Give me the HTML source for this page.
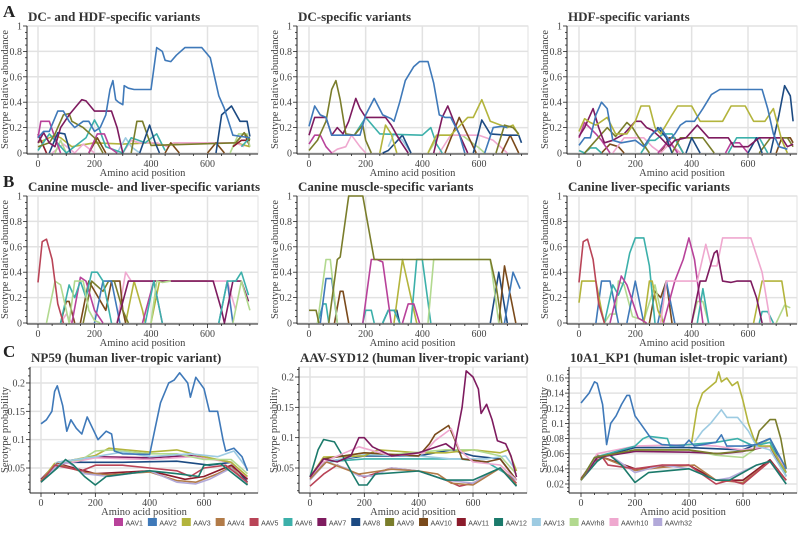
<!DOCTYPE html>
<html><head><meta charset="utf-8">
<style>
html,body{margin:0;padding:0;background:#fff;}
svg{display:block;}
.tick{font-family:"Liberation Serif",serif;font-size:10px;fill:#444;}
.ptitle{font-family:"Liberation Serif",serif;font-size:13px;font-weight:bold;fill:#333;}
.atitle{font-family:"Liberation Serif",serif;font-size:10.5px;fill:#444;}
.letter{font-family:"Liberation Serif",serif;font-size:17px;font-weight:bold;fill:#222;}
.leg{font-family:"Liberation Sans",sans-serif;font-size:7px;fill:#444;}
</style></head>
<body>
<svg id="chart" width="800" height="537" viewBox="0 0 800 537"></svg>
<script>
const serotypes = ["AAV1","AAV2","AAV3","AAV4","AAV5","AAV6","AAV7","AAV8","AAV9","AAV10","AAV11","AAV12","AAV13","AAVrh8","AAVrh10","AAVrh32"];
const colors = ["#b8429a","#3f79b9","#b3b43c","#b27b48","#b94457","#3cb0aa","#7e1b5f","#1c4a82","#7a7d2b","#7a4a1b","#8b1b2b","#1b7a6b","#9dcbe2","#b2d98f","#efa8cf","#b2a9d9"];

const xTicks = [0,200,400,600];
const yTicksAB = [0,0.2,0.4,0.6,0.8,1];
const yLabelsAB = ["0","0.2","0.4","0.6","0.8","1"];
const yTicksC12 = [0.05,0.1,0.15,0.2];
const yLabelsC12 = ["0.05","0.1","0.15","0.2"];
const yTicksC3 = [0.02,0.04,0.06,0.08,0.1,0.12,0.14,0.16];
const yLabelsC3 = ["0.02","0.04","0.06","0.08","0.1","0.12","0.14","0.16"];
const titles = ["DC- and HDF-specific variants","DC-specific variants","HDF-specific variants","Canine muscle- and liver-specific variants","Canine muscle-specific variants","Canine liver-specific variants","NP59 (human liver-tropic variant)","AAV-SYD12 (human liver-tropic variant)","10A1_KP1 (human islet-tropic variant)"];

const A1 = {
AAV3:[[0,0.08],[60,0.14],[80,0.12],[120,0.05],[200,0.08],[300,0.07],[400,0.08],[450,0.06],[500,0.08],[700,0.08],[750,0.05]],
AAVrh10:[[50,0],[90,0.07],[130,0],[160,0.07],[200,0],null,[300,0],[330,0.1],[360,0.08],[420,0.08],[460,0.05],[480,0.08],[700,0.08],[730,0.05]],
AAV10:[[180,0],[210,0.12],[240,0],null,[450,0],[470,0.08],[500,0],null,[600,0],[630,0.08],[660,0],null,[700,0.08],[730,0.16],[750,0.05]],
AAVrh8:[[60,0],[80,0.1],[100,0],null,[680,0],[710,0.15],[740,0.15],[750,0.05]],
AAV13:[[280,0],[310,0.12],[330,0.05],[360,0]],
AAV11:[[0,0.15],[30,0],null,[690,0.05],[720,0.1],[750,0.1]],
AAV6:[[0,0.02],[40,0.15],[60,0.1],[100,0],[170,0.12],[200,0.26],[215,0.2],[240,0.05],[300,0],[330,0.12],[380,0.08],[420,0.15],[450,0.02],null,[720,0.05],[750,0.12]],
AAV1:[[0,0.12],[10,0.25],[40,0.25],[60,0.12],[80,0],null,[180,0],[210,0.15],[235,0.15],[255,0.04],[280,0]],
AAV9:[[0,0.05],[40,0.08],[60,0.15],[90,0.3],[110,0.31],[120,0.25],[160,0.2],[200,0.12],[230,0],null,[330,0],[350,0.25],[370,0.25],[400,0.06],[700,0.08],[730,0.16],[750,0.1]],
AAV8:[[40,0],[70,0.16],[95,0.15],[115,0],null,[360,0],[395,0.22],[415,0.08],[430,0],null,[630,0],[650,0.3],[685,0.37],[715,0.25],[740,0.25],[750,0.13]],
AAV7:[[0,0.08],[20,0.16],[40,0.08],[60,0.05],[80,0.2],[110,0.3],[140,0.38],[155,0.42],[170,0.41],[200,0.33],[260,0.33],[280,0.2],[300,0]],
AAV2:[[0,0.12],[20,0.17],[40,0.17],[70,0.33],[90,0.33],[110,0.25],[130,0.2],[160,0.25],[180,0.25],[200,0.17],[220,0.2],[240,0.3],[255,0.5],[265,0.57],[275,0.42],[285,0.4],[300,0.38],[305,0.53],[320,0.51],[340,0.5],[400,0.5],[420,0.83],[440,0.8],[450,0.73],[470,0.72],[490,0.77],[520,0.83],[580,0.83],[610,0.75],[640,0.45],[660,0.35],[690,0.14],[720,0.13],[750,0.12]]
};
const A2 = {
AAV13:[[280,0.05],[300,0.15],[330,0.1],[360,0]],
AAVrh8:[[420,0],[460,0.14],[540,0.14],[600,0.04],[620,0]],
AAVrh10:[[80,0],[100,0.03],[130,0.05],[150,0.14],[180,0.05],[200,0],null,[460,0],[500,0.14],[600,0.14],[650,0.1],[700,0]],
AAV1:[[0,0.07],[20,0.14],[40,0.14],[60,0.05],[80,0]],
AAV10:[[480,0],[530,0.28],[560,0.14],[590,0],null,[680,0],[710,0.14],[740,0]],
AAV8:[[260,0],[280,0.02],[330,0.14],[360,0],null,[580,0],[610,0.26],[640,0.15],[700,0.14],[740,0.14],[750,0.08]],
AAV6:[[160,0.14],[200,0.28],[250,0.15],[400,0.14],[430,0.2],[450,0.07],[470,0]],
AAV3:[[250,0],[270,0.22],[290,0.15],[310,0],null,[420,0],[450,0.14],[500,0.14],[560,0.28],[580,0.28],[610,0.42],[640,0.25],[700,0.2],[720,0.22],[740,0.14]],
AAV7:[[0,0.14],[20,0.28],[60,0.28],[80,0.14],[100,0.2],[120,0.15],[140,0.25],[165,0.43],[180,0.35],[200,0.28],[270,0.28],[290,0.22],[320,0.1],[350,0],null,[440,0],[470,0.28],[490,0.37],[520,0.2],[560,0]],
AAV9:[[0,0.02],[30,0.1],[60,0.25],[80,0.5],[95,0.57],[110,0.42],[130,0.15],[160,0.14],[190,0.22],[200,0.1],[220,0],null,[660,0],[690,0.22],[720,0.2],[740,0.15]],
AAV2:[[0,0.21],[20,0.37],[40,0.3],[60,0.28],[80,0.14],[140,0.14],[180,0.14],[200,0.3],[230,0.43],[260,0.3],[290,0.27],[300,0.25],[320,0.4],[340,0.57],[370,0.68],[390,0.72],[420,0.72],[440,0.55],[460,0.3],[480,0.28],[500,0.28],[530,0.15],[550,0],null,[620,0],[650,0.2],[680,0.21],[700,0.2]]
};
const A3 = {
AAV10:[[80,0],[110,0.07],[140,0.05],[160,0],null,[290,0],[320,0.12],[340,0.12],[370,0],null,[700,0],[720,0.12],[750,0.12],[760,0.08]],
AAVrh10:[[120,0],[160,0.12],[230,0.12],[260,0.05],[290,0],[320,0.07],[340,0.04],[360,0]],
AAV1:[[0,0.12],[20,0.24],[60,0.15],[80,0.1],[110,0],null,[280,0],[320,0.1],[350,0],null,[520,0],[540,0.08],[570,0.08],[600,0]],
AAV6:[[0,0.02],[20,0],[40,0.04],[60,0.04],[80,0],null,[220,0],[250,0.1],[270,0.1],[300,0.15],[330,0.15],[370,0],null,[530,0],[560,0.12],[640,0.12],[670,0]],
AAV9:[[20,0],[60,0.1],[100,0.2],[130,0.13],[170,0.24],[190,0.2],[210,0.13],[250,0],null,[330,0],[360,0.12],[440,0.12],[480,0],null,[640,0],[680,0.12],[740,0.12],[760,0.05]],
AAV8:[[250,0.12],[280,0.2],[310,0.12],[330,0],null,[380,0],[400,0.12],[430,0],null,[600,0],[630,0.12],[650,0],null,[680,0],[710,0.3],[730,0.53],[750,0.45],[760,0.25]],
AAV7:[[0,0.13],[20,0.2],[50,0.35],[70,0.2],[90,0.08],[120,0.1],[160,0.15],[200,0.25],[220,0.25],[240,0.2],[260,0.18],[290,0.12],[320,0.05],[340,0.1],[380,0.12],[420,0.22],[460,0.12],[530,0.12],[550,0.05],[600,0.05],[640,0.12],[720,0.12],[740,0.05],[760,0.07]],
AAV3:[[0,0.17],[20,0.27],[40,0.24],[60,0.22],[80,0.25],[100,0.28],[130,0.15],[170,0.15],[200,0.25],[220,0.37],[250,0.37],[270,0.2],[290,0.15],[330,0.3],[350,0.37],[400,0.37],[430,0.25],[510,0.25],[540,0.37],[590,0.37],[620,0.25],[660,0.25],[690,0.35],[720,0.1],[740,0]],
AAV2:[[0,0.06],[20,0.12],[40,0.12],[60,0.3],[80,0.4],[100,0.35],[120,0.1],[150,0.08],[200,0.1],[230,0.05],[260,0.15],[290,0.2],[320,0.1],[340,0.15],[360,0.22],[380,0.25],[410,0.25],[440,0.35],[470,0.46],[500,0.5],[650,0.5],[670,0.35],[690,0.15],[710,0.05],[740,0.03]]
};
const B1 = {
AAV3:[[310,0],[340,0.33],[370,0.1],[380,0],null,[400,0],[430,0.33],[600,0.33]],
AAVrh10:[[80,0],[100,0.07],[120,0],null,[280,0],[310,0.4],[330,0.33],[670,0.33],[700,0.1]],
AAV10:[[80,0],[100,0.17],[110,0.17],[130,0],null,[150,0],[180,0.33],[240,0.1],[260,0.33],[290,0.33],[300,0.1],[310,0]],
AAV9:[[160,0],[190,0.33],[230,0.25],[250,0.33],[270,0.33],[300,0.1],[320,0]],
AAV2:[[200,0],[230,0.33],[260,0.33],[290,0],null,[640,0],[670,0.33],[690,0]],
AAV1:[[120,0],[150,0.36],[170,0.33],[200,0.1],[230,0],null,[370,0],[410,0.33],[440,0]],
AAV7:[[280,0],[320,0.33],[620,0.33],[650,0.1],[660,0],[690,0.33],[720,0.33],[745,0.17]],
AAV6:[[80,0],[110,0.3],[130,0.2],[150,0.33],[170,0.2],[190,0.4],[210,0.4],[230,0.33],[260,0],null,[380,0],[410,0.33],[440,0],null,[640,0],[670,0.33],[700,0.33],[720,0.4],[745,0.22]],
AAVrh8:[[30,0],[60,0.33],[80,0.3],[100,0.1],[110,0],[130,0.33],[160,0.33],[180,0.1],[200,0.02],[220,0],null,[400,0],[420,0.33],[440,0.32],[470,0.33],null,[690,0],[720,0.33],[750,0.1]],
AAV5:[[0,0.32],[15,0.64],[30,0.66],[50,0.5],[70,0.15],[90,0]]
};
const B2 = {
AAV8:[[260,0],[280,0.1],[310,0.1],[320,0],null,[640,0],[670,0.4],[700,0]],
AAV3:[[300,0],[330,0.5],[370,0.1],[380,0]],
AAV6:[[30,0],[50,0.15],[60,0.15],[70,0],null,[190,0],[200,0.1],[220,0.1],[230,0],null,[260,0],[280,0.1],[300,0.1],[320,0],null,[360,0],[380,0.5],[400,0.5],[430,0]],
AAV1:[[190,0],[220,0.5],[240,0.5],[260,0.48],[290,0],null,[330,0],[350,0.15],[370,0.15],[390,0]],
AAV10:[[90,0],[110,0.25],[120,0.25],[140,0],null,[670,0],[690,0.45],[730,0]],
AAV2:[[40,0],[60,0.35],[80,0.35],[100,0],null,[690,0],[720,0.4],[745,0.27]],
AAVrh8:[[30,0],[60,0.5],[75,0.5],[100,0],null,[420,0],[440,0.5],[640,0.5],[670,0]],
AAV9:[[0,0.1],[25,0.1],[35,0],null,[70,0],[100,0.5],[110,0.52],[140,1],[190,1],[230,0.5],[640,0.5],[660,0.3],[680,0]]
};
const B3 = {
AAV10:[[250,0],[270,0.25],[290,0.2],[310,0.33],[330,0]],
AAVrh8:[[90,0],[110,0.07],[130,0.07],[140,0.33],[160,0.3],[190,0.05],[230,0.02],[270,0.3],[300,0],null,[400,0],[420,0.17],[440,0.17],[460,0],null,[700,0],[730,0.14],[750,0.12]],
AAV2:[[60,0],[80,0.33],[110,0.33],[140,0],null,[170,0],[200,0.33],[230,0],null,[280,0],[310,0.33],[340,0]],
AAV6:[[90,0],[120,0.3],[140,0.22],[160,0.33],[180,0.55],[200,0.67],[230,0.67],[250,0.45],[270,0],null,[420,0],[440,0.27],[460,0],null,[640,0],[650,0.09],[670,0.09],[690,0]],
AAV3:[[0,0.16],[10,0.33],[60,0.33],[80,0.1],[90,0],null,[230,0],[250,0.33],[260,0.33],[280,0.1],[300,0],null,[620,0],[650,0.33],[720,0.33],[740,0.05]],
AAV1:[[110,0],[150,0.37],[170,0.3],[210,0.04],[240,0],null,[300,0],[340,0.33],[370,0.5],[390,0.67],[410,0.5],[440,0]],
AAVrh10:[[290,0],[310,0.33],[420,0.33],[450,0.62],[470,0.45],[490,0.45],[510,0.67],[610,0.67],[650,0.4],[680,0]],
AAV7:[[400,0],[430,0.33],[450,0.33],[480,0.55],[490,0.57],[510,0.33],[540,0.32],[560,0.33],[610,0.33],[630,0.2],[650,0]],
AAV5:[[0,0.32],[15,0.64],[30,0.66],[50,0.5],[70,0.15],[90,0]]
};
const C1 = {
AAV8:[[0,0.03],[80,0.06],[300,0.06],[500,0.062],[620,0.055],[700,0.06],[760,0.025]],
AAV7:[[0,0.03],[60,0.06],[200,0.07],[400,0.068],[550,0.072],[700,0.06],[760,0.03]],
AAVrh10:[[0,0.025],[60,0.055],[200,0.068],[400,0.065],[560,0.07],[700,0.06],[760,0.032]],
AAV3:[[0,0.027],[50,0.058],[200,0.072],[250,0.085],[400,0.078],[500,0.082],[600,0.07],[700,0.06],[760,0.035]],
AAVrh8:[[0,0.025],[60,0.06],[150,0.065],[200,0.08],[260,0.082],[400,0.075],[500,0.075],[600,0.065],[700,0.065],[760,0.04]],
AAV13:[[0,0.025],[60,0.06],[200,0.07],[300,0.078],[400,0.07],[550,0.075],[650,0.07],[710,0.08],[760,0.048]],
AAV11:[[0,0.027],[60,0.058],[200,0.04],[400,0.045],[530,0.03],[600,0.035],[700,0.055],[760,0.03]],
AAV4:[[0,0.028],[60,0.057],[160,0.042],[250,0.038],[400,0.043],[500,0.028],[570,0.025],[650,0.04],[700,0.052],[760,0.022]],
AAVrh32:[[0,0.025],[60,0.055],[100,0.06],[160,0.04],[250,0.035],[400,0.045],[500,0.025],[570,0.022],[620,0.03],[700,0.05],[760,0.02]],
AAV5:[[0,0.025],[50,0.055],[150,0.045],[200,0.055],[300,0.055],[400,0.05],[500,0.045],[550,0.035],[600,0.05],[680,0.055],[760,0.025]],
AAV12:[[0,0.025],[60,0.05],[90,0.065],[120,0.055],[160,0.035],[200,0.02],[240,0.035],[400,0.045],[500,0.04],[580,0.035],[600,0.055],[660,0.058],[760,0.02]],
AAV2:[[0,0.128],[20,0.135],[40,0.15],[50,0.185],[60,0.195],[80,0.16],[95,0.115],[110,0.135],[130,0.12],[150,0.11],[170,0.14],[190,0.12],[210,0.1],[240,0.115],[260,0.11],[270,0.08],[300,0.075],[400,0.074],[420,0.12],[440,0.165],[470,0.2],[490,0.205],[510,0.218],[540,0.2],[550,0.175],[570,0.21],[600,0.19],[620,0.15],[650,0.15],[670,0.1],[680,0.08],[710,0.085],[740,0.07],[760,0.045]]
};
const C2 = {
AAV6:[[0,0.035],[60,0.06],[200,0.065],[400,0.065],[550,0.065],[650,0.06],[760,0.03]],
AAV8:[[0,0.035],[50,0.06],[200,0.07],[400,0.07],[520,0.08],[600,0.07],[700,0.065],[760,0.03]],
AAV13:[[0,0.03],[60,0.06],[200,0.072],[400,0.07],[520,0.065],[650,0.065],[720,0.07],[760,0.045]],
AAV3:[[0,0.035],[50,0.068],[200,0.07],[250,0.08],[400,0.075],[500,0.075],[600,0.08],[700,0.075],[730,0.08],[760,0.045]],
AAVrh8:[[0,0.035],[50,0.065],[200,0.075],[300,0.072],[500,0.08],[600,0.08],[700,0.07],[760,0.04]],
AAV5:[[0,0.02],[50,0.04],[100,0.055],[200,0.035],[300,0.05],[400,0.045],[500,0.03],[550,0.02],[600,0.025],[700,0.05],[760,0.025]],
AAVrh32:[[0,0.03],[60,0.06],[130,0.05],[180,0.037],[230,0.037],[300,0.05],[400,0.045],[500,0.03],[600,0.025],[700,0.05],[760,0.02]],
AAV4:[[0,0.032],[60,0.06],[180,0.04],[300,0.048],[400,0.045],[470,0.04],[520,0.025],[600,0.022],[700,0.05],[760,0.022]],
AAV12:[[0,0.035],[30,0.08],[50,0.097],[90,0.093],[120,0.07],[150,0.045],[180,0.022],[210,0.022],[240,0.04],[400,0.045],[500,0.03],[600,0.03],[700,0.05],[760,0.02]],
AAV10:[[0,0.035],[50,0.065],[200,0.075],[400,0.07],[440,0.09],[460,0.105],[510,0.12],[530,0.1],[560,0.065],[650,0.06],[700,0.065],[760,0.03]],
AAVrh10:[[0,0.035],[50,0.06],[180,0.085],[300,0.07],[420,0.075],[460,0.095],[520,0.115],[550,0.08],[600,0.06],[700,0.055],[760,0.03]],
AAV7:[[0,0.035],[50,0.065],[100,0.06],[150,0.07],[180,0.1],[200,0.1],[230,0.085],[300,0.07],[400,0.075],[500,0.09],[530,0.08],[560,0.15],[575,0.21],[600,0.2],[620,0.18],[630,0.14],[650,0.155],[670,0.13],[690,0.095],[720,0.09],[740,0.07],[760,0.035]]
};
const C3 = {
AAV11:[[0,0.027],[60,0.058],[200,0.04],[400,0.045],[500,0.025],[600,0.025],[700,0.052],[760,0.025]],
AAV4:[[0,0.025],[60,0.058],[200,0.038],[300,0.042],[420,0.045],[500,0.025],[600,0.022],[700,0.05],[760,0.025]],
AAVrh32:[[0,0.025],[60,0.055],[100,0.06],[200,0.035],[300,0.045],[400,0.04],[500,0.025],[550,0.028],[650,0.045],[700,0.05],[760,0.02]],
AAV5:[[0,0.025],[50,0.05],[80,0.055],[100,0.045],[200,0.04],[300,0.045],[400,0.045],[500,0.02],[550,0.025],[600,0.02],[700,0.05],[760,0.025]],
AAV12:[[0,0.025],[60,0.05],[100,0.06],[150,0.045],[200,0.022],[250,0.035],[400,0.04],[500,0.025],[550,0.025],[650,0.045],[700,0.05],[760,0.02]],
AAV8:[[0,0.025],[60,0.055],[200,0.068],[400,0.068],[600,0.065],[700,0.08],[760,0.035]],
AAVrh8:[[0,0.025],[60,0.055],[200,0.065],[400,0.065],[500,0.058],[600,0.055],[700,0.08],[760,0.04]],
AAV7:[[0,0.025],[60,0.055],[200,0.063],[400,0.062],[520,0.06],[600,0.063],[700,0.07],[760,0.03]],
AAVrh10:[[0,0.025],[60,0.06],[200,0.07],[400,0.072],[500,0.07],[600,0.065],[700,0.07],[760,0.04]],
AAV6:[[0,0.025],[50,0.055],[200,0.07],[230,0.08],[250,0.083],[320,0.08],[330,0.07],[400,0.072],[500,0.075],[580,0.08],[640,0.07],[700,0.075],[760,0.03]],
AAV9:[[0,0.025],[50,0.055],[200,0.065],[400,0.065],[500,0.06],[640,0.065],[660,0.09],[700,0.105],[720,0.105],[740,0.08],[760,0.04]],
AAV13:[[420,0.075],[450,0.09],[480,0.1],[520,0.118],[540,0.108],[580,0.108],[620,0.09],[650,0.07],[700,0.065],[760,0.03]],
AAV3:[[410,0.075],[430,0.12],[450,0.14],[500,0.155],[510,0.168],[520,0.155],[540,0.16],[560,0.15],[580,0.155],[600,0.13],[620,0.1],[640,0.08],[660,0.07],[700,0.07],[760,0.035]],
AAV2:[[0,0.127],[30,0.14],[50,0.155],[60,0.153],[80,0.125],[90,0.09],[95,0.072],[110,0.1],[130,0.11],[150,0.125],[170,0.137],[180,0.137],[200,0.11],[230,0.095],[250,0.085],[260,0.08],[300,0.072],[380,0.07],[400,0.078],[420,0.07],[500,0.075],[520,0.085],[540,0.07],[600,0.07],[650,0.072],[700,0.08],[760,0.04]]
};

const NS = "http://www.w3.org/2000/svg";
const svg = document.getElementById("chart");
function mk(tag, attrs, parent){const e=document.createElementNS(NS,tag);for(const k in attrs)e.setAttribute(k,attrs[k]);(parent||svg).appendChild(e);return e;}

const layout = [
 [27,258,38,207.5,26,153,0,1],[297,528,309,479,26,153,0,1],[567,797,579,748,26,153,0,1],
 [27,258,38,207.5,196,323,0,1],[297,528,309,479,196,323,0,1],[567,797,579,748,196,323,0,1],
 [30,258,41,204,367,493,0.0059,0.2282],[299,527,310,473,367,493,0.0088,0.2165],[569,797,581,743,367,493,0.0081,0.1745]
];
const panelData = [A1,A2,A3,B1,B2,B3,C1,C2,C3];
const panelNames = ["dc-hdf-panel","dc-panel","hdf-panel","canine-muscle-liver-panel","canine-muscle-panel","canine-liver-panel","np59-panel","aav-syd12-panel","10a1-kp1-panel"];

layout.forEach((L,i)=>{
  const [left,right,x0,x6,top,bottom,ymin,ymax]=L;
  const xs=v=>x0+(x6-x0)*v/600;
  const ys=v=>bottom-(v-ymin)/(ymax-ymin)*(bottom-top);
  const g=mk("g",{});
  
  
  const isC=i>=6;
  const yt = i<6?yTicksAB:(i<8?yTicksC12:yTicksC3);
  const yl = i<6?yLabelsAB:(i<8?yLabelsC12:yLabelsC3);
  mk("rect",{x:left,y:top,width:right-left,height:bottom-top+(isC?0:1),fill:"#fff",stroke:"#e2e2e2","stroke-width":1},g);
  yt.forEach(v=>{const l=mk("line",{x1:left,x2:right,y1:ys(v),y2:ys(v),stroke:"#e2e2e2","stroke-width":1.5},g);});
  xTicks.forEach(v=>{const l=mk("line",{x1:xs(v),x2:xs(v),y1:top,y2:bottom,stroke:"#e2e2e2","stroke-width":1.5},g);});
  const data=panelData[i];
  Object.keys(data).forEach(name=>{
    const pts=data[name];let d="",pen=false;
    pts.forEach(p=>{if(p===null){pen=false;return;}d+=(pen?"L":"M")+xs(p[0]).toFixed(1)+" "+ys(p[1]).toFixed(1)+" ";pen=true;});
    const path=mk("path",{d:d,fill:"none",stroke:colors[serotypes.indexOf(name)],"stroke-width":1.6,"stroke-linejoin":"round"},g);
    
    
  });
  const ab = isC?bottom:bottom+1;
  const ya=mk("line",{x1:left,x2:left,y1:top,y2:ab,stroke:"#222","stroke-width":1},g);
  
  const xa=mk("line",{x1:left,x2:right,y1:ab,y2:ab,stroke:"#222","stroke-width":1},g);
  
  const step=yt[1]-yt[0];
  for(let v=yt[0]-step;v<=ymax+1e-9;v+=step/4){if(v<ymin-1e-9)continue;const len=(Math.abs((v-yt[0])/step-Math.round((v-yt[0])/step))<1e-6)?4:2;mk("line",{x1:left-len,x2:left,y1:ys(v),y2:ys(v),stroke:"#222","stroke-width":0.8},g);}
  for(let v=0;v<=780;v+=50){const px=xs(v);if(px>right)break;const len=v%200===0?4:2;mk("line",{x1:px,x2:px,y1:ab,y2:ab+len,stroke:"#222","stroke-width":0.8},g);}
  yt.forEach((v,k)=>{const t=mk("text",{x:left-5,y:ys(v)+3.5,"text-anchor":"end",class:"tick"},g);t.textContent=yl[k];});
  xTicks.forEach(v=>{const t=mk("text",{x:xs(v),y:ab+13,"text-anchor":"middle",class:"tick"},g);t.textContent=String(v);});
  const xt=mk("text",{x:(left+right)/2,y:ab+22,"text-anchor":"middle",class:"atitle"},g);
  xt.textContent="Amino acid position";
  const ytt=mk("text",{x:0,y:0,"text-anchor":"middle",class:"atitle",transform:`translate(${left-(isC?22:19)},${(top+bottom)/2}) rotate(-90)`},g);
  ytt.textContent=isC?"Serotype probability":"Serotype relative abundance";
  const pt=mk("text",{x:left+1,y:top-5,class:"ptitle"},g);
  pt.textContent=titles[i];
});

[["A",17],["B",187],["C",357]].forEach(([s,y])=>{const t=mk("text",{x:3,y:y,class:"letter"});t.textContent=s;});

const lg=mk("g",{});


let lx=114;
serotypes.forEach((s,k)=>{
  const item=mk("g",{},lg);
  
  
  mk("rect",{x:lx,y:518,width:9,height:8,fill:colors[k]},item);
  const t=mk("text",{x:lx+11.5,y:525.5,class:"leg"},item);t.textContent=s;
  let w=s.length*3.9;
  try{const m=t.getComputedTextLength();if(m>0)w=m;}catch(e){}
  lx+=11.5+w+5;
});
</script>
</body></html>
